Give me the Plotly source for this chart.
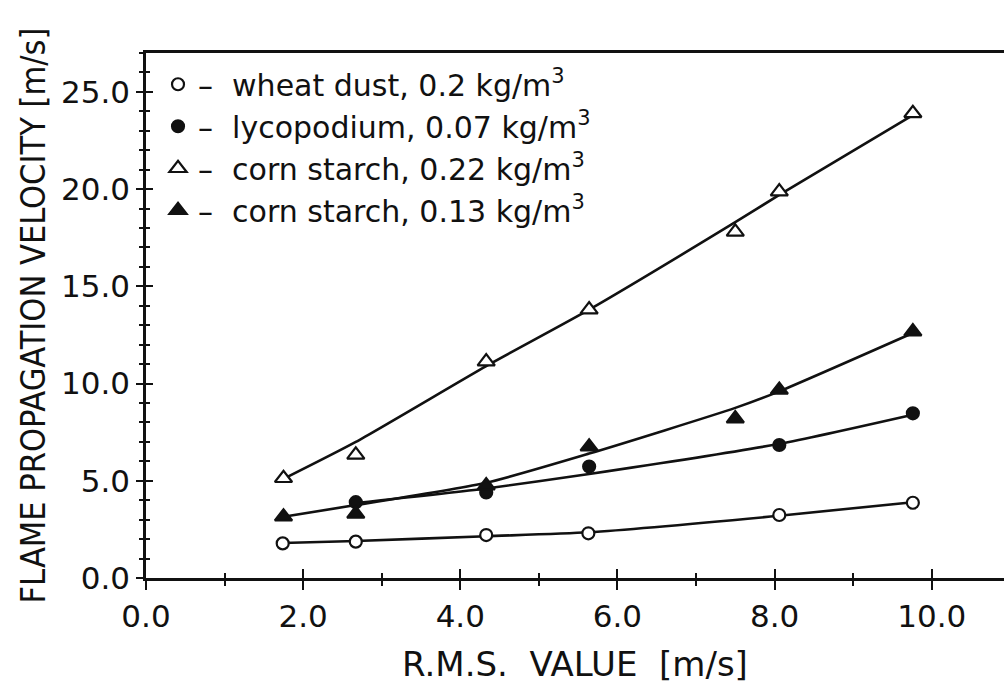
import plotly.graph_objects as go

# ---- data ----
rms_wheat = [1.74, 2.67, 4.33, 5.63, 8.06, 9.76]
v_wheat = [1.78, 1.87, 2.21, 2.30, 3.24, 3.87]
fit_wheat = [1.80, 1.90, 2.15, 2.35, 3.20, 3.90]

rms_lyco = [2.67, 4.33, 5.64, 8.06, 9.76]
v_lyco = [3.90, 4.40, 5.73, 6.84, 8.47]
fit_lyco = [3.85, 4.60, 5.35, 6.90, 8.40]

rms_cs22 = [1.75, 2.67, 4.33, 5.64, 7.50, 8.06, 9.76]
v_cs22 = [5.13, 6.33, 11.13, 13.80, 17.80, 19.87, 23.90]
fit_cs22 = [5.10, 7.00, 10.90, 13.80, 18.30, 19.70, 23.80]

rms_cs13 = [1.75, 2.67, 4.33, 5.64, 7.50, 8.06, 9.76]
v_cs13 = [3.15, 3.30, 4.75, 6.75, 8.20, 9.67, 12.67]
fit_cs13 = [3.15, 3.75, 4.90, 6.40, 8.75, 9.60, 12.60]

names = [
    "\u2013\u00a0 wheat dust, 0.2 kg/m<sup>3</sup>",
    "\u2013\u00a0 lycopodium, 0.07 kg/m<sup>3</sup>",
    "\u2013\u00a0 corn starch, 0.22 kg/m<sup>3</sup>",
    "\u2013\u00a0 corn starch, 0.13 kg/m<sup>3</sup>",
]

x_ticks = [0, 2, 4, 6, 8, 10]
y_ticks = [0, 5, 10, 15, 20, 25]

FONT = "DejaVu Sans"
NARROW = "Liberation Sans Narrow, DejaVu Sans Condensed, Liberation Sans"
BLACK = "#111111"

series = [
    (rms_wheat, v_wheat, fit_wheat, names[0], "circle", "white", 12),
    (rms_lyco, v_lyco, fit_lyco, names[1], "circle", BLACK, 12),
    (rms_cs22, v_cs22, fit_cs22, names[2], "triangle-up", "white", 15),
    (rms_cs13, v_cs13, fit_cs13, names[3], "triangle-up", BLACK, 15),
]

fig = go.Figure()

for x, y, fit, name, sym, fill, size in series:
    fig.add_trace(go.Scatter(
        x=x, y=fit, mode="lines",
        line=dict(color=BLACK, width=2.6, shape="spline", smoothing=0.6),
        showlegend=False, hoverinfo="skip",
    ))

for i, (x, y, fit, name, sym, fill, size) in enumerate(series):
    fig.add_trace(go.Scatter(
        x=x, y=y, mode="markers", name=name, legendgroup=f"g{i}",
        marker=dict(symbol=sym, size=size, color=fill,
                    line=dict(color=BLACK, width=2.2)),
    ))

# invisible trace for the overlay axes (inner half of crossing ticks)
fig.add_trace(go.Scatter(x=[None], y=[None], xaxis="x2", yaxis="y2",
                         showlegend=False, hoverinfo="skip"))

XR = [0, 10.92]
YR = [0, 27.0]
TICKSIZE = 31

fig.update_layout(
    width=1004, height=689,
    margin=dict(l=146, r=0, t=53, b=111),
    paper_bgcolor="white", plot_bgcolor="white",
    font=dict(family=FONT, color=BLACK),
    showlegend=True,
    legend=dict(
        x=0.014, y=0.99, xanchor="left", yanchor="top",
        bgcolor="rgba(0,0,0,0)", borderwidth=0,
        font=dict(size=30, family=FONT, color=BLACK),
        traceorder="grouped", tracegroupgap=0,
        itemwidth=30,
    ),
    xaxis=dict(
        range=XR, showgrid=False, zeroline=False,
        showline=True, linecolor=BLACK, linewidth=2.5, mirror=True,
        tickmode="array", tickvals=x_ticks, ticktext=[f"{v:.1f}" for v in x_ticks],
        ticks="outside", ticklen=9, tickwidth=2, tickcolor=BLACK,
        minor=dict(dtick=1, tick0=0, ticks="outside", ticklen=5, tickwidth=2, tickcolor=BLACK),
        tickfont=dict(size=TICKSIZE, family=FONT, color=BLACK),
        title=dict(text="R.M.S.  VALUE  [m/s]", font=dict(size=34, family=FONT, color=BLACK), standoff=20),
    ),
    yaxis=dict(
        range=YR, showgrid=False, zeroline=False,
        showline=True, linecolor=BLACK, linewidth=2.5,
        tickmode="array", tickvals=y_ticks, ticktext=[f"{v:.1f}" for v in y_ticks],
        ticks="outside", ticklen=7, tickwidth=2, tickcolor=BLACK,
        minor=dict(dtick=1, tick0=0, ticks="outside", ticklen=4, tickwidth=2, tickcolor=BLACK),
        tickfont=dict(size=TICKSIZE, family=FONT, color=BLACK),
        title=dict(text="FLAME PROPAGATION VELOCITY [m/s]", font=dict(size=34, family=NARROW, color=BLACK), standoff=6),
    ),
    xaxis2=dict(
        range=XR, overlaying="x", anchor="y", side="bottom",
        showgrid=False, zeroline=False, showline=False, showticklabels=False,
        tickmode="array", tickvals=x_ticks,
        ticks="inside", ticklen=9, tickwidth=2, tickcolor=BLACK,
        minor=dict(dtick=1, tick0=0, ticks="inside", ticklen=5, tickwidth=2, tickcolor=BLACK),
    ),
    yaxis2=dict(
        range=YR, overlaying="y", anchor="x", side="left",
        showgrid=False, zeroline=False, showline=False, showticklabels=False,
        tickmode="array", tickvals=y_ticks,
        ticks="inside", ticklen=7, tickwidth=2, tickcolor=BLACK,
        minor=dict(dtick=1, tick0=0, ticks="inside", ticklen=4, tickwidth=2, tickcolor=BLACK),
    ),
)

fig.write_html("out.html")
